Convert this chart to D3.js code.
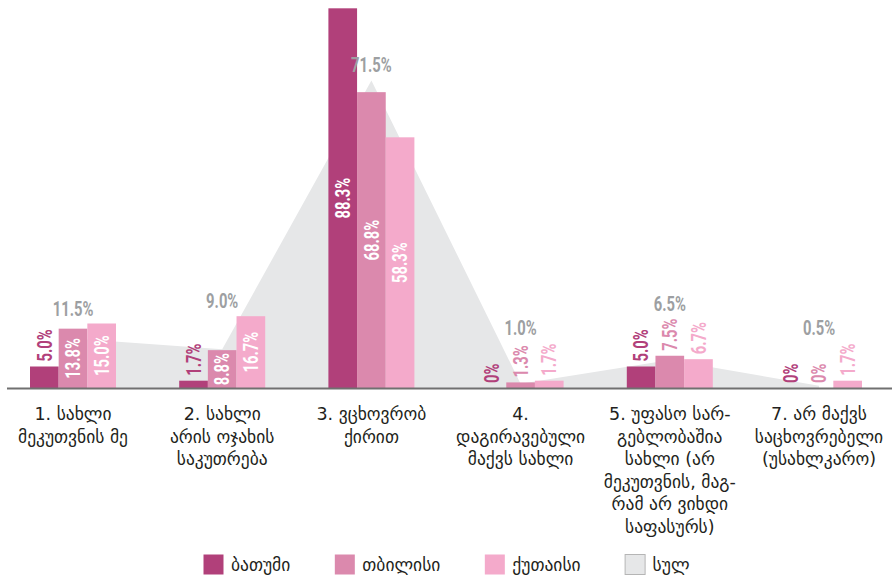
<!DOCTYPE html>
<html><head><meta charset="utf-8">
<script src="https://cdn.jsdelivr.net/npm/d3@7"></script>
<style>
html,body{margin:0;padding:0;background:#fff;}
svg{display:block;}
</style></head>
<body>
<svg id="chart" width="892" height="576"></svg>
<script>
const categories = [
  "1. სახლი\nმეკუთვნის მე",
  "2. სახლი\nარის ოჯახის\nსაკუთრება",
  "3. ვცხოვრობ\nქირით",
  "4.\nდაგირავებული\nმაქვს სახლი",
  "5. უფასო სარ-\nგებლობაშია\nსახლი (არ\nმეკუთვნის, მაგ-\nრამ არ ვიხდი\nსაფასურს)",
  "7. არ მაქვს\nსაცხოვრებელი\n(უსახლკარო)"
];
const seriesNames = ["ბათუმი", "თბილისი", "ქუთაისი"];
const totalName = "სულ";
const batumi  = [5.0, 1.7, 88.3, 0, 5.0, 0];
const tbilisi = [13.8, 8.8, 68.8, 1.3, 7.5, 0];
const kutaisi = [15.0, 16.7, 58.3, 1.7, 6.7, 1.7];
const total   = [11.5, 9.0, 71.5, 1.0, 6.5, 0.5];
const seriesColors = ["#b1407a", "#db89ad", "#f4aacb"];
const totalColor = "#e6e7e8";

const series = [batumi, tbilisi, kutaisi];
const svg = d3.select("#chart");
const baseY = 388;
const y = d3.scaleLinear().domain([0, 90]).range([baseY, 1]);
const x0 = d3.scaleBand().domain(d3.range(categories.length)).range([-1.6, 893.6])
  .paddingInner(0.4236).paddingOuter(0.2118);
const x1 = d3.scaleBand().domain(d3.range(series.length)).range([0, x0.bandwidth()]);
const cx = i => x0(i) + x0.bandwidth() / 2;

// total area
const area = d3.area().x((d, i) => cx(i)).y0(y(0)).y1(d => y(d));
svg.append("path").datum(total).attr("d", area).attr("fill", totalColor);

// bars
const groups = svg.selectAll("g.grp").data(categories).join("g").attr("class", "grp")
  .attr("transform", (d, i) => `translate(${x0(i)},0)`);
const valueFont = "Roboto,'DejaVu Sans Condensed',sans-serif";
const sx = 0.74;
const threshold = 8;
const gap = 5;
const tops = categories.map(() => []);
groups.each(function (c, ci) {
  const g = d3.select(this);
  series.forEach((s, si) => {
    const v = s[ci];
    g.append("rect").attr("x", x1(si)).attr("width", x1.bandwidth())
      .attr("y", y(v)).attr("height", y(0) - y(v)).attr("fill", seriesColors[si]);
  });
  series.forEach((s, si) => {
    const v = s[ci];
    const inside = v >= threshold;
    const lx = x1(si) + x1.bandwidth() / 2;
    const ly = inside ? (y(v) + y(0)) / 2 : y(v) - gap;
    const t = g.append("text")
      .attr("transform", `translate(${lx},${ly}) rotate(-90) scale(${sx},1)`)
      .attr("text-anchor", inside ? "middle" : "start")
      .attr("dy", "0.36em")
      .attr("font-family", valueFont).attr("font-weight", "bold").attr("font-size", 20)
      .attr("fill", inside ? "#fff" : seriesColors[si])
      .text((v === 0 ? "0" : v.toFixed(1)) + "%");
    const len = t.node().getComputedTextLength() * sx;
    if (si > 0) tops[ci].push(inside ? y(v) : y(v) - gap - len);
  });
});

// total labels
svg.selectAll("text.tot").data(total).join("text").attr("class", "tot")
  .attr("transform", (d, i) => `translate(${cx(i)},${Math.min(y(d) - 9, d3.min(tops[i]) - 8)}) scale(${sx},1)`)
  .attr("text-anchor", "middle")
  .attr("font-family", valueFont).attr("font-weight", "bold").attr("font-size", 20)
  .attr("fill", "#9d9fa2")
  .text(d => d.toFixed(1) + "%");

// axis line
svg.append("line").attr("x1", 7).attr("x2", 892).attr("y1", baseY + 0.5).attr("y2", baseY + 0.5)
  .attr("stroke", "#707070").attr("stroke-width", 2);

// category labels
const catFont = "'DejaVu Sans',sans-serif";
svg.selectAll("text.cat").data(categories).join("text").attr("class", "cat")
  .attr("text-anchor", "middle")
  .attr("font-family", catFont).attr("font-size", 17.5).attr("fill", "#231f20")
  .each(function (d, i) {
    d.split("\n").forEach((line, li) => {
      d3.select(this).append("tspan").attr("x", cx(i)).attr("y", 420 + li * 22.5).text(line);
    });
  });

// legend
const legendItems = seriesNames.map((n, i) => ({ name: n, color: seriesColors[i], stroke: "none" }))
  .concat([{ name: totalName, color: totalColor, stroke: "#b5b5b5" }]);
const leg = svg.append("g");
let lx = 0;
const legGap = 44;
legendItems.forEach(it => {
  const g = leg.append("g").attr("transform", `translate(${lx},0)`);
  g.append("rect").attr("x", 0.5).attr("y", 0.5).attr("width", 20).attr("height", 20)
    .attr("fill", it.color).attr("stroke", it.stroke);
  const t = g.append("text").attr("x", 28).attr("y", 17)
    .attr("font-family", catFont).attr("font-size", 17.5).attr("fill", "#231f20").text(it.name);
  lx += 28 + t.node().getComputedTextLength() + legGap;
});
const lw = lx - legGap;
leg.attr("transform", `translate(${Math.round(446 - lw / 2)},554)`);
</script>
</body></html>
